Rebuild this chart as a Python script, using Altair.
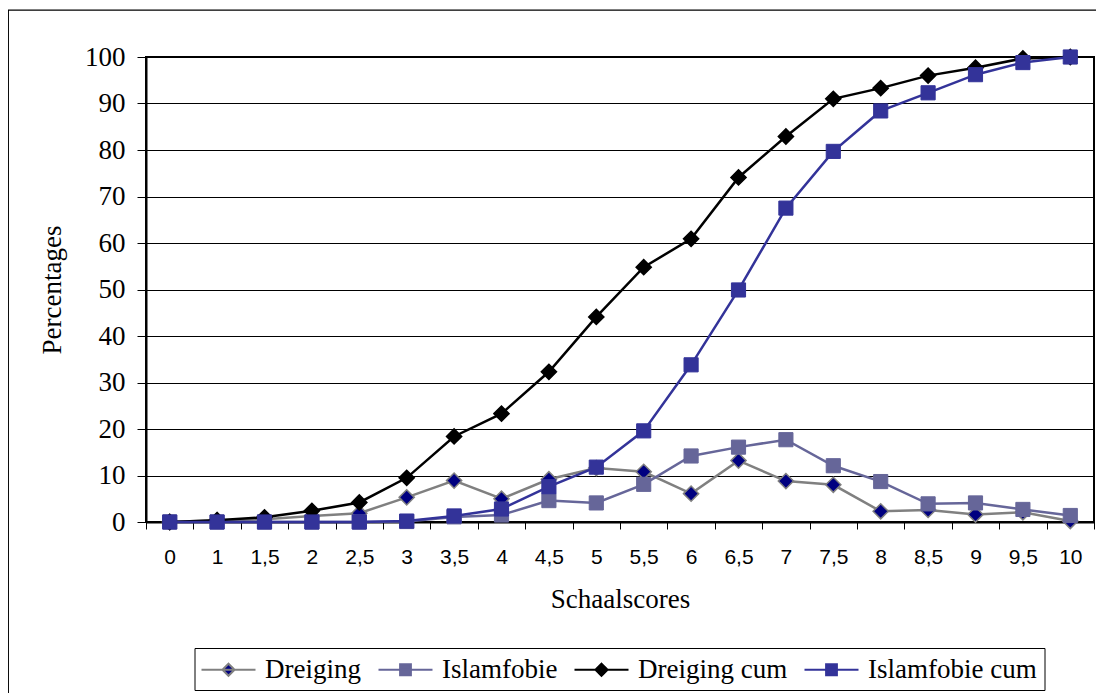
import json
import altair as alt
import pandas as pd

labels = ["0", "1", "1,5", "2", "2,5", "3", "3,5", "4", "4,5", "5", "5,5",
          "6", "6,5", "7", "7,5", "8", "8,5", "9", "9,5", "10"]

dreiging = [0, 0.4, 0.6, 1.3, 1.9, 5.3, 8.9, 5.0, 9.2, 11.6, 10.8,
            6.1, 13.2, 8.8, 8.0, 2.3, 2.6, 1.6, 2.1, 0.2]
islamfobie = [0, 0, 0, 0, 0, 0.1, 1.1, 1.5, 4.6, 4.1, 8.1,
              14.2, 16.1, 17.7, 12.1, 8.7, 3.9, 4.1, 2.7, 1.4]
dreiging_cum = [0, 0.4, 1.0, 2.4, 4.2, 9.5, 18.4, 23.3, 32.3, 44.1, 54.8,
                60.9, 74.1, 82.9, 91.0, 93.3, 96.0, 97.7, 99.7, 100]
islamfobie_cum = [0, 0, 0, 0, 0, 0.2, 1.3, 2.8, 7.6, 11.8, 19.6,
                  33.8, 49.9, 67.5, 79.7, 88.4, 92.3, 96.2, 98.8, 100]

series_names = ["Dreiging", "Islamfobie", "Dreiging cum", "Islamfobie cum"]
series_values = [dreiging, islamfobie, dreiging_cum, islamfobie_cum]
series_shapes = ["diamond", "square", "diamond", "square"]
fill_colors = ["#000080", "#666699", "#000000", "#333399"]
stroke_colors = ["#808080", "#666699", "#000000", "#333399"]

rows = []
for name, vals in zip(series_names, series_values):
    for i, v in enumerate(vals):
        rows.append({"idx": i, "label": labels[i], "value": v, "series": name})
df = pd.DataFrame(rows)

W, H = 948, 465
bw = W / len(labels)

serif = "Liberation Serif"
sans = "Liberation Sans"

label_expr = json.dumps(labels) + "[round(datum.value + 0.5)] || ''"
x_ticks = [i - 0.5 for i in range(len(labels) + 1)]

x_enc = alt.X(
    "idx:Q",
    scale=alt.Scale(domain=[-0.5, len(labels) - 0.5], nice=False, zero=False),
    axis=alt.Axis(
        title="Schaalscores", values=x_ticks, labelExpr=label_expr,
        labelOffset=bw / 2, labelFlush=False, labelOverlap=False, labelBound=False,
        grid=False, tickSize=7, tickColor="black", tickWidth=1,
        labelFont=sans, labelFontSize=21, labelColor="black", labelPadding=17,
        domainColor="black", domainWidth=2,
        titleFont=serif, titleFontSize=27, titleFontWeight="normal",
        titleColor="black", titlePadding=19,
    ),
)
y_enc = alt.Y(
    "value:Q",
    scale=alt.Scale(domain=[0, 100], nice=False, zero=True),
    axis=alt.Axis(
        title="Percentages", values=list(range(0, 101, 10)), grid=True,
        gridColor="black", gridWidth=1, tickSize=9, tickColor="black",
        labelFont=serif, labelFontSize=27, labelColor="black", labelPadding=12,
        domainColor="black", domainWidth=2,
        titleFont=serif, titleFontSize=27, titleFontWeight="normal",
        titleColor="black", titlePadding=18,
    ),
)

fill_scale = alt.Scale(domain=series_names, range=fill_colors)
stroke_scale = alt.Scale(domain=series_names, range=stroke_colors)

diamond_line = "M-2,0L2,0M0,-0.45L0.45,0L0,0.45L-0.45,0Z"
square_line = "M-2,0L2,0M-0.4,-0.4L0.4,-0.4L0.4,0.4L-0.4,0.4Z"
legend_paths = [diamond_line, square_line, diamond_line, square_line]
shape_scale = alt.Scale(domain=series_names, range=legend_paths)

legend = alt.Legend(
    title=None, orient="none", legendX=48.5, legendY=591,
    direction="horizontal", columns=4, columnPadding=13,
    labelFont=serif, labelFontSize=27, labelColor="black", labelLimit=500,
    labelOffset=22, symbolOffset=12.5, symbolSize=729, symbolStrokeWidth=2,
    symbolOpacity=1, padding=7, strokeColor="black", fillColor="white",
    cornerRadius=0,
)

# invisible layer that only carries the legend (placed first so its legend wins the merge)
legend_layer = alt.Chart(df).mark_point(filled=True, opacity=0, size=729).encode(
    x=x_enc, y=y_enc,
    fill=alt.Fill("series:N", scale=fill_scale, legend=legend),
    stroke=alt.Stroke("series:N", scale=stroke_scale, legend=legend),
    shape=alt.Shape("series:N", scale=shape_scale, legend=legend),
)

frame_df = pd.DataFrame({"k": [0]})
frame = alt.Chart(frame_df).mark_rect(
    fillOpacity=0, stroke="black", strokeWidth=1.3
).encode(
    x=alt.value(-137.7), x2=alt.value(1300), y=alt.value(-46.8), y2=alt.value(1200)
)

layers = [legend_layer, frame]
for name, shape in zip(series_names, series_shapes):
    base = alt.Chart(df).transform_filter(alt.datum.series == name)
    line = base.mark_line(strokeWidth=2.5).encode(
        x=x_enc, y=y_enc,
        stroke=alt.Stroke("series:N", scale=stroke_scale, legend=None),
    )
    size = 230 if shape == "diamond" else 200
    sw = 1.5 if shape == "diamond" else 1
    pts = base.mark_point(shape=shape, filled=True, size=size, strokeWidth=sw,
                          opacity=1).encode(
        x=x_enc, y=y_enc,
        fill=alt.Fill("series:N", scale=fill_scale, legend=None),
        stroke=alt.Stroke("series:N", scale=stroke_scale, legend=None),
    )
    layers += [line, pts]

chart = alt.layer(*layers).properties(
    width=W, height=H,
    autosize="none",
    padding={"left": 138, "top": 49, "right": 2, "bottom": 171},
    background="white",
).configure_view(
    stroke="black", strokeWidth=2
).configure_legend(
    labelFont=serif, labelFontSize=27, labelColor="black", labelFontWeight="normal"
)

chart.save("out.html", embed_options={"renderer": "svg", "actions": False})
